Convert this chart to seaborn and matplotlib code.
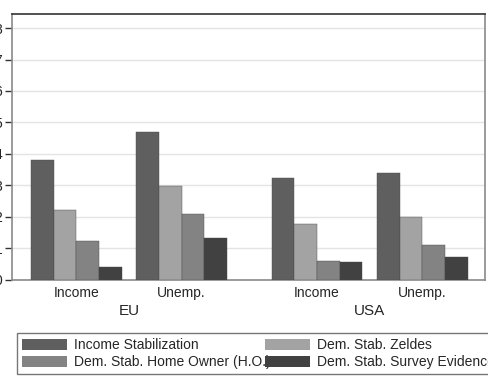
import numpy as np
import pandas as pd
import seaborn as sns
import matplotlib.pyplot as plt
from matplotlib.transforms import blended_transform_factory

countries = ["EU", "USA"]
shocks = ["Income", "Unemp."]
series = ["Income Stabilization", "Dem. Stab. Zeldes",
          "Dem. Stab. Home Owner (H.O.)", "Dem. Stab. Survey Evidence"]

# values per (country, shock)
income_stab = [3.80, 4.70, 3.23, 3.38]
zeldes = [2.21, 2.99, 1.76, 1.99]
home_owner = [1.24, 2.08, 0.58, 1.10]
survey = [0.41, 1.33, 0.55, 0.72]

colors = ["#5f5f5f", "#a3a3a3", "#838383", "#414141"]

sns.set_style("white")
plt.rcParams['font.family'] = ['Liberation Sans', 'DejaVu Sans']

# group positions: shocks one unit apart, extra gap between countries
gap = 1.284
rows = []
k = 0
for ci, c in enumerate(countries):
    for si, s in enumerate(shocks):
        pos = ci * gap + ci + si
        for name, vals in zip(series, [income_stab, zeldes, home_owner, survey]):
            rows.append({"pos": pos, "series": name, "value": vals[k],
                         "shock": s, "country": c})
        k += 1
df = pd.DataFrame(rows)

fig = plt.figure(figsize=(4.88, 3.78), dpi=100)
ax = fig.add_axes([12 / 488, 1 - 279.5 / 378, 473 / 488, 265.5 / 378])

sns.barplot(data=df, x="pos", y="value", hue="series", hue_order=series,
            palette=colors, native_scale=True, width=0.86, ax=ax,
            saturation=1, edgecolor="#4a4a4a", linewidth=0.3, zorder=3)

ax.set_ylim(0, 8.45)
ax.set_xlim(-0.61, 3.878)
ax.set_yticks(range(0, 9))
ax.set_yticklabels([str(i) for i in range(0, 9)], fontsize=10)
ax.yaxis.grid(True, color="#e4e4e4", linewidth=1, zorder=0)
ax.tick_params(axis="y", direction="out", length=5, width=1, color="#333333",
               left=True, pad=2)

positions = sorted(df["pos"].unique())
ax.set_xticks(positions)
ax.set_xticklabels(shocks * 2, fontsize=10)
ax.tick_params(axis="x", length=0, pad=5)
ax.set_xlabel("")
ax.set_ylabel("")

for side in ["left", "bottom", "right"]:
    ax.spines[side].set_color("#8a8a8a")
    ax.spines[side].set_linewidth(1.2)
ax.spines["top"].set_color("#333333")
ax.spines["top"].set_linewidth(1.2)

trans = blended_transform_factory(ax.transData, ax.transAxes)
for ci, c in enumerate(countries):
    center = (positions[2 * ci] + positions[2 * ci + 1]) / 2
    ax.text(center, -0.12, c, transform=trans, ha="center", va="center",
            fontsize=11)

# legend filled row by row, as in the reference
handles, labels = ax.get_legend_handles_labels()
ax.get_legend().remove()
order = [0, 2, 1, 3]
leg = fig.legend([handles[i] for i in order], [labels[i] for i in order],
                 ncol=2, loc="upper left",
                 bbox_to_anchor=(16.7 / 488, 1 - 333.3 / 378),
                 fontsize=10, frameon=True, fancybox=False,
                 edgecolor="#555555", borderaxespad=0, borderpad=0.35,
                 handlelength=3.24, handleheight=0.86, handletextpad=0.5,
                 labelspacing=0.2, columnspacing=-0.36)
leg.get_frame().set_linewidth(1.0)
for h in leg.get_patches():
    h.set_linewidth(0)

fig.savefig("out.png", dpi=100)
